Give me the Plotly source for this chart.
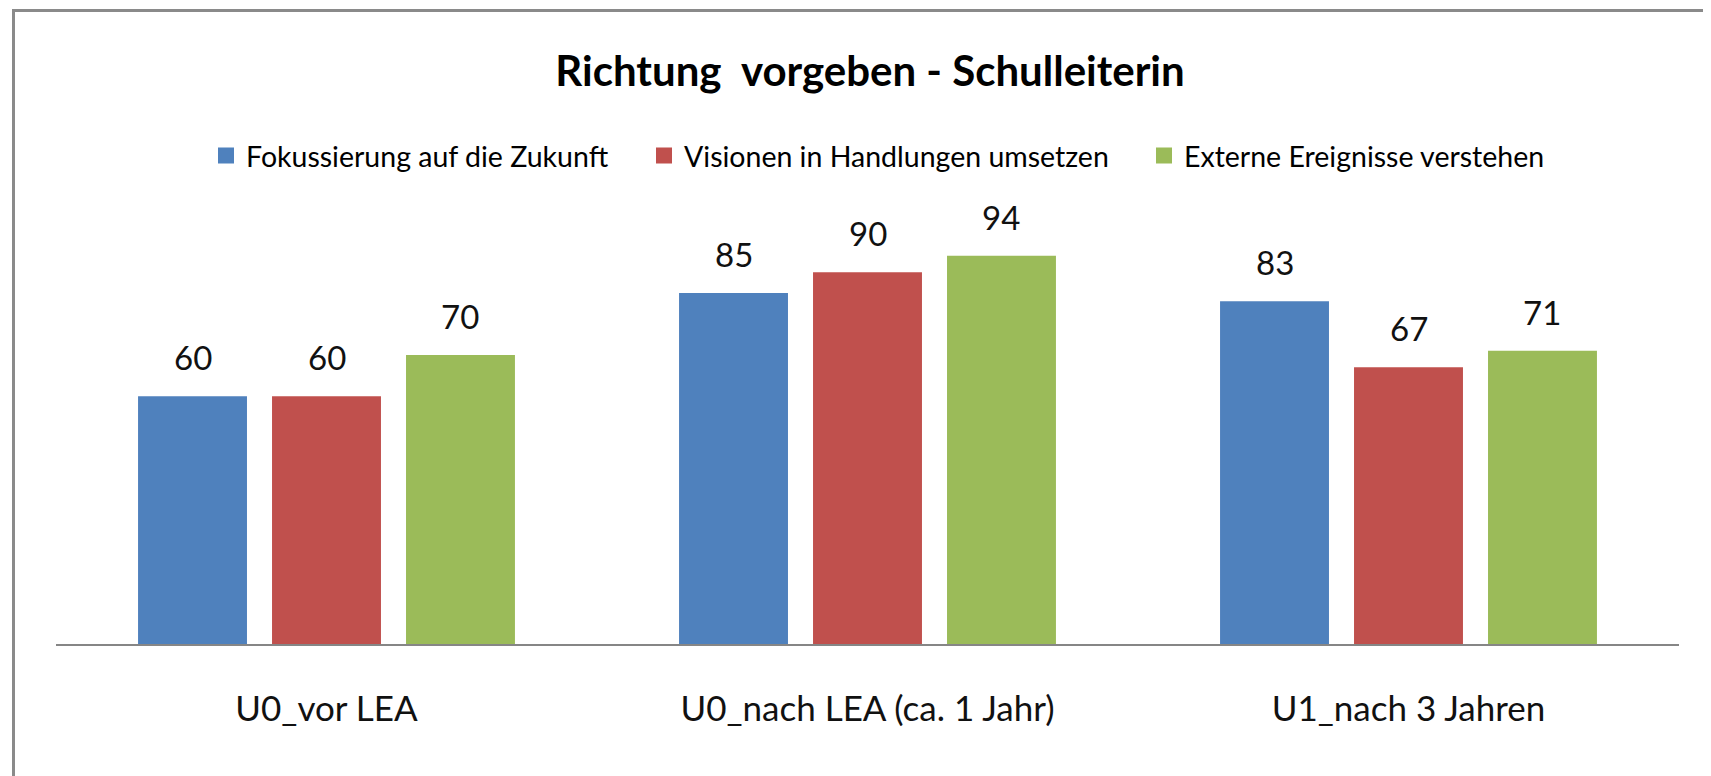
import plotly.graph_objects as go

categories = ["U0_vor LEA", "U0_nach LEA (ca. 1 Jahr)", "U1_nach 3 Jahren"]
series_names = ["Fokussierung auf die Zukunft", "Visionen in Handlungen umsetzen",
                "Externe Ereignisse verstehen"]
fokussierung = [60, 85, 83]
visionen = [60, 90, 67]
externe = [70, 94, 71]
series_values = [fokussierung, visionen, externe]
colors = ["#4F81BD", "#C0504D", "#9BBB59"]
title_text = "Richtung  vorgeben - Schulleiterin"

# page is offset by the default 8px body margin
OFF = 8
W, H = 1711, 776
ML = 56 - OFF
PR = 1679 - OFF          # right end of plot area in figure px
MR = W - PR
MT = 231 - OFF
MB = H - (644 - OFF)
PW = W - ML - MR
PH = H - MT - MB
BARGAP = 0.257
BARGROUPGAP = 0.187
FONT = "Lato"
LEGEND_TEXT_X = [246, 684, 1184]   # page px where each legend text starts
LEGEND_NAMES = ["legend", "legend2", "legend3"]

fig = go.Figure()
for name, vals, col in zip(series_names, series_values, colors):
    fig.add_trace(go.Bar(name=name, x=categories, y=vals, marker_color=col,
                         marker_line_width=0, showlegend=False))
# legend entries with larger square swatches, one legend per entry
for name, col, lg in zip(series_names, colors, LEGEND_NAMES):
    fig.add_trace(go.Scatter(name=name, x=[categories[0]], y=[None], mode="markers",
                             marker=dict(symbol="square", size=16, color=col),
                             showlegend=True, hoverinfo="skip", legend=lg))

slot = PW / len(categories)
sub = slot * (1 - BARGAP) / len(series_values)
annotations = []
for i, vals in enumerate(series_values):
    for c, v in zip(categories, vals):
        annotations.append(dict(x=c, y=v, xref="x", yref="y", text=str(v),
                                showarrow=False, xshift=(i - 1) * sub, yshift=39,
                                yanchor="middle",
                                font=dict(family=FONT, size=33, color="#111111")))


def px_x(p):
    return (p - OFF - ML) / PW


def px_y(p):
    return (H - MB - (p - OFF)) / PH


shapes = [
    dict(type="line", xref="paper", yref="paper", x0=px_x(13.5), x1=px_x(13.5),
         y0=px_y(10.5), y1=px_y(800), line=dict(color="#8a8a8a", width=3)),
    dict(type="line", xref="paper", yref="paper", x0=px_x(12), x1=px_x(1730),
         y0=px_y(10.5), y1=px_y(10.5), line=dict(color="#8a8a8a", width=3)),
]

legend_style = dict(orientation="h", xanchor="left", yanchor="middle",
                    font=dict(family=FONT, size=28.5, color="#000000"),
                    bgcolor="rgba(0,0,0,0)", itemsizing="trace")
legends = {}
for lg, tx in zip(LEGEND_NAMES, LEGEND_TEXT_X):
    legends[lg] = dict(legend_style, x=px_x(tx - 40), y=px_y(156))

fig.update_layout(
    width=W, height=H, autosize=False,
    margin=dict(l=ML, r=MR, t=MT, b=MB),
    paper_bgcolor="white", plot_bgcolor="white",
    barmode="group", bargap=BARGAP, bargroupgap=BARGROUPGAP,
    title=dict(text="<b>" + title_text + "</b>", x=px_x(870), xref="paper",
               xanchor="center", y=1 - (71 - OFF) / H, yanchor="middle",
               font=dict(family=FONT, size=42, color="#000000")),
    xaxis=dict(showline=True, linecolor="#868686", linewidth=2, ticks="",
               showgrid=False, tickfont=dict(family=FONT, size=35, color="#111111"),
               ticklabelstandoff=33, fixedrange=True),
    yaxis=dict(range=[0, 100], visible=False, showgrid=False, fixedrange=True),
    annotations=annotations,
    shapes=shapes,
    showlegend=True,
    **legends,
)

fig.write_html("out.html")
